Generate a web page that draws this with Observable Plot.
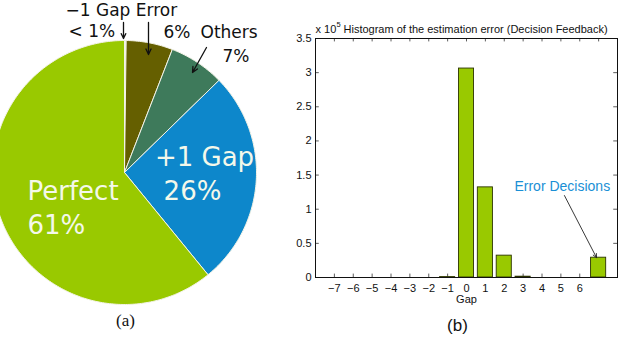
<!DOCTYPE html>
<html>
<head>
<meta charset="utf-8">
<script src="https://cdn.jsdelivr.net/npm/d3@7"></script>
<script src="https://cdn.jsdelivr.net/npm/@observablehq/plot@0.6"></script>
<style>
  html, body { margin: 0; padding: 0; background: #fff; }
  #wrap { position: relative; width: 622px; height: 337px; background: #fff; overflow: hidden; }
  #left, #right { position: absolute; top: 0; }
  #left { left: 0; }
  #right { left: 270px; }
  svg { overflow: visible; }
  #right svg, #right svg text { font-family: "Liberation Sans", Arial, sans-serif; }
</style>
</head>
<body>
<div id="wrap"><div id="left"></div><div id="right"></div></div>
<script>
// ---------- Pie data (a) ----------
const pieLabels = ["−1 Gap", "Error", "Others", "+1 Gap", "Perfect"];
const pieShares = [0.2, 5.7, 6.8, 26.4, 60.9];
const pieColors = ["#f1f1de", "#655f00", "#3e7a5b", "#0d87cb", "#99c900"];

// ---------- Histogram data (b), counts in units of 10^5 ----------
const gaps = [-7, -6, -5, -4, -3, -2, -1, 0, 1, 2, 3, 4, 5, 6, 7];
const counts = [0, 0, 0, 0, 0, 0, 0.006, 3.06, 1.32, 0.32, 0.012, 0, 0, 0, 0.29];
const xTickLabels = [-7, -6, -5, -4, -3, -2, -1, 0, 1, 2, 3, 4, 5, 6];
const yTicks = [0, 0.5, 1, 1.5, 2, 2.5, 3, 3.5];

// ---------- Pie geometry ----------
const cx = 124, cy = 172, R = 132;
const arcs = d3.pie().sort(null).startAngle(0).endAngle(2 * Math.PI)(pieShares);
const piePts = [];
arcs.forEach((a, i) => {
  const n = Math.max(2, Math.ceil((a.endAngle - a.startAngle) / (Math.PI / 180)));
  piePts.push({slice: pieLabels[i], color: pieColors[i], x: cx, y: cy});
  for (let k = 0; k <= n; k++) {
    const t = a.startAngle + (a.endAngle - a.startAngle) * k / n;
    piePts.push({slice: pieLabels[i], color: pieColors[i], x: cx + R * Math.sin(t), y: cy - R * Math.cos(t)});
  }
  piePts.push({slice: pieLabels[i], color: pieColors[i], x: cx, y: cy});
});

// annotation labels: text, x, baseline y, size, color, anchor
const pieText = [
  {t: "−1 Gap Error", x: 65, b: 15, s: 17, c: "#111", a: "start"},
  {t: "< 1%", x: 68, b: 36, s: 17, c: "#111", a: "start"},
  {t: "6%", x: 163, b: 37, s: 17, c: "#111", a: "start"},
  {t: "Others", x: 200, b: 37, s: 17, c: "#111", a: "start"},
  {t: "7%", x: 222, b: 61, s: 17, c: "#111", a: "start"},
  {t: "+1 Gap", x: 204, b: 165, s: 26, c: "#f4f8ea", a: "middle"},
  {t: "26%", x: 192, b: 199, s: 26, c: "#f4f8ea", a: "middle"},
  {t: "Perfect", x: 27, b: 199, s: 26, c: "#f4f8ea", a: "start"},
  {t: "61%", x: 27, b: 233, s: 26, c: "#f4f8ea", a: "start"}
];
const pieArrows = [
  {x1: 123, y1: 22, x2: 123, y2: 38},
  {x1: 148, y1: 22, x2: 148, y2: 54},
  {x1: 206, y1: 47, x2: 192, y2: 72}
];

const left = Plot.plot({
  width: 270, height: 337, margin: 0,
  x: {domain: [0, 270], range: [0, 270], axis: null},
  y: {domain: [0, 337], range: [0, 337], axis: null},
  color: {type: "identity"},
  style: {background: "white", overflow: "visible"},
  marks: [
    Plot.line(piePts, {x: "x", y: "y", z: "slice", fill: "color", stroke: "#f3f3e6", strokeWidth: 1, strokeLinejoin: "round"}),
    ...pieText.map(d => Plot.text([d], {x: "x", y: r => r.b - 0.32 * r.s, text: "t", fill: r => r.c,
      fontSize: d.s, fontFamily: "DejaVu Sans, sans-serif", textAnchor: d.a})),
    Plot.arrow(pieArrows, {x1: "x1", y1: "y1", x2: "x2", y2: "y2", stroke: "#111", strokeWidth: 1.3, headLength: 7, headAngle: 50, bend: 0}),
    Plot.text(["(a)"], {x: 125, y: 325 - 0.32 * 17, text: d => d, fontSize: 17, fontFamily: "Liberation Serif, DejaVu Serif, serif", fill: "#111"})
  ]
});
document.getElementById("left").appendChild(left);

// ---------- Histogram ----------
const bars = gaps.map((g, i) => ({gap: g, count: counts[i]}));
const allTicks = gaps;
const SANS = "Liberation Sans, Arial, sans-serif";

const right = Plot.plot({
  width: 352, height: 337,
  marginLeft: 45, marginRight: 5, marginTop: 38, marginBottom: 60,
  x: {domain: [-8, 8], ticks: xTickLabels, tickSize: 0, tickPadding: 7, label: null,
      tickFormat: d => d < 0 ? "−" + (-d) : String(d)},
  y: {domain: [0, 3.5], ticks: yTicks, tickSize: 0, tickPadding: 4, label: null, tickFormat: d => String(d)},
  style: {fontFamily: SANS, fontSize: "11px", background: "white", color: "#111", overflow: "visible"},
  marks: [
    Plot.ruleX(allTicks, {x: d => d, y1: 0, y2: 0.05, stroke: "#333", strokeWidth: 0.8}),
    Plot.rect(bars, {x1: d => d.gap - 0.4, x2: d => d.gap + 0.4, y1: 0, y2: "count", fill: "#99c900", stroke: "#2b3300", strokeWidth: 0.9}),
    Plot.ruleX(allTicks, {x: d => d, y1: 3.5, y2: 3.45, stroke: "#333", strokeWidth: 0.8}),
    Plot.ruleY(yTicks, {y: d => d, x1: -8, x2: -7.8, stroke: "#333", strokeWidth: 0.8}),
    Plot.ruleY(yTicks, {y: d => d, x1: 8, x2: 7.8, stroke: "#333", strokeWidth: 0.8}),
    Plot.frame({stroke: "#111", strokeWidth: 1}),
    Plot.text(["x 10"], {x: -8, y: 3.5, dy: -9.5, text: d => d, textAnchor: "start", fontSize: 11, fontFamily: SANS, fill: "#111"}),
    Plot.text(["5"], {x: -8, y: 3.5, dx: 21, dy: -14, text: d => d, textAnchor: "start", fontSize: 7.5, fontFamily: SANS, fill: "#111"}),
    Plot.text(["Histogram of the estimation error (Decision Feedback)"], {x: -8, y: 3.5, dx: 28, dy: -9.5, text: d => d, textAnchor: "start", fontSize: 11, fontFamily: SANS, fill: "#111"}),
    Plot.text(["Gap"], {x: 0, y: 0, dy: 22, text: d => d, fontSize: 11, fontFamily: SANS, fill: "#111"}),
    Plot.text(["Error Decisions"], {x: 2.54, y: 1.33, text: d => d, textAnchor: "start", fontSize: 14, fontFamily: SANS, fill: "#1a8fd5"}),
    Plot.arrow([{x1: 5.19, y1: 1.2, x2: 6.89, y2: 0.29}], {x1: "x1", y1: "y1", x2: "x2", y2: "y2", stroke: "#222", strokeWidth: 0.9, headLength: 7, headAngle: 50, bend: 0}),
    Plot.text(["(b)"], {x: 0, y: 0, dx: -9, dy: 48, text: d => d, fontSize: 17, fontFamily: "Liberation Serif, DejaVu Serif, serif", fill: "#111"})
  ]
});
document.getElementById("right").appendChild(right);
</script>
</body>
</html>
